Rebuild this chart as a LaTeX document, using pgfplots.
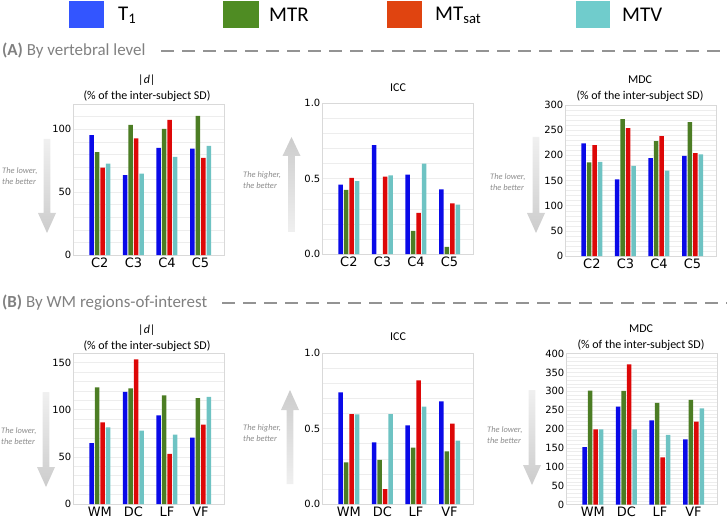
\documentclass[border=0pt]{standalone}
\usepackage{fontspec}
\setmainfont{Carlito}
\newfontfamily\dejavu{DejaVu Sans}
\usepackage{pgfplots}
\pgfplotsset{compat=1.18}
\definecolor{cT}{HTML}{0A0AE8}
\definecolor{cR}{HTML}{4C7D24}
\definecolor{cS}{HTML}{DD0808}
\definecolor{cV}{HTML}{6EC3C3}
\definecolor{lT}{HTML}{3355FF}
\definecolor{lR}{HTML}{4F8C23}
\definecolor{lS}{HTML}{E04410}
\definecolor{lV}{HTML}{70CCCC}
\definecolor{hdr}{HTML}{808080}
\pgfplotsset{
  panel/.style={
    scale only axis, width=151bp, height=151bp, anchor=south west,
    ybar=1bp, bar width=4.5bp,
    xmin=-0.8, xmax=3.7, ymin=0, enlargelimits=false,
    xtick={0,1,2,3},
    major tick length=0pt, minor tick length=0pt,
    axis line style={draw=black!15},
    ymajorgrids, yminorgrids,
    major grid style={draw=black!7},
    minor grid style={draw=black!7},
    yticklabel style={font=\dejavu\fontsize{10}{12}\selectfont, inner sep=1.5bp},
    xticklabel style={font=\dejavu\fontsize{13}{15}\selectfont, inner sep=2.5bp},
    /pgf/number format/assume math mode=true,
  },
  icc/.style={ymax=1, ytick={0,0.5,1}, minor ytick={0,0.1,...,1.0},
    yticklabel style={/pgf/number format/fixed, /pgf/number format/fixed zerofill, /pgf/number format/precision=1}},
}
\newcommand{\downarr}[4]{% cx, top, headbase, tip
  \shade[top color=black!6, bottom color=black!20] ({#1-3.4},{-#2}) -- ({#1+3.4},{-#2}) -- ({#1+3.4},{-#3}) -- ({#1+9},{-#3}) -- ({#1},{-#4}) -- ({#1-9},{-#3}) -- ({#1-3.4},{-#3}) -- cycle;}
\newcommand{\uparr}[4]{% cx, bottom, headbase, tip
  \shade[bottom color=black!6, top color=black!20] ({#1-3.4},{-#2}) -- ({#1+3.4},{-#2}) -- ({#1+3.4},{-#3}) -- ({#1+9},{-#3}) -- ({#1},{-#4}) -- ({#1-9},{-#3}) -- ({#1-3.4},{-#3}) -- cycle;}
\begin{document}
\begin{tikzpicture}[x=1bp,y=1bp]
\useasboundingbox (0,0) rectangle (727,-522);
% legend
\fill[lT] (69,-1.5) rectangle (104,-28);
\fill[lR] (223,-1.5) rectangle (259,-28);
\fill[lS] (387,-1.5) rectangle (422,-28);
\fill[lV] (576,-1.5) rectangle (610,-28);
\begin{scope}[every node/.style={anchor=west, inner sep=0pt, font=\fontsize{21}{24}\selectfont}]
\node at (118,-15) {T\textsubscript{1}};
\node at (269,-15) {MTR};
\node at (435,-15) {MT\textsubscript{sat}};
\node at (622,-15) {MTV};
\end{scope}
% section headers
\node[anchor=west, inner sep=0pt, text=hdr, font=\fontsize{17}{20}\selectfont] at (2,-51) {\textbf{(A)} By vertebral level};
\draw[hdr!85, line width=2.5bp, dash pattern=on 13bp off 8bp] (161,-51) -- (727,-51);
\node[anchor=west, inner sep=0pt, text=hdr, font=\fontsize{17}{20}\selectfont] at (2,-303) {\textbf{(B)} By WM regions-of-interest};
\draw[hdr!85, line width=2.5bp, dash pattern=on 13bp off 8bp] (222,-303) -- (727,-303);
% arrows
\downarr{47}{139}{213}{233}
\uparr{291.5}{232}{156}{137}
\downarr{536}{137}{213}{233}
\downarr{46}{392}{467}{487}
\uparr{290}{484}{410}{390}
\downarr{532}{390}{465}{485}
\begin{scope}[every node/.style={anchor=west, align=left, inner sep=0pt, text=black!45, font=\fontsize{8.5}{11}\selectfont\itshape}]
\node at (2,-176) {The lower,\\the better};
\node at (243,-180) {The higher,\\the better};
\node at (490,-182) {The lower,\\the better};
\node at (1,-436) {The lower,\\the better};
\node at (243,-433) {The higher,\\the better};
\node at (487,-435) {The lower,\\the better};
\end{scope}
% titles
\begin{scope}[every node/.style={align=center, inner sep=0pt, font=\fontsize{12}{16}\selectfont}]
\node at (147,-88) {\textit{|d|}\\(\% of the inter-subject SD)};
\node at (398,-88) {ICC};
\node at (640,-89) {MDC\\(\% of the inter-subject SD)};
\node at (147,-338.5) {\textit{|d|}\\(\% of the inter-subject SD)};
\node at (398,-337) {ICC};
\node at (641,-338) {MDC\\(\% of the inter-subject SD)};
\end{scope}
% ---- A1 |d|
\begin{axis}[panel, at={(73bp,-255bp)}, ymax=120, ytick={0,50,100}, minor ytick={0,10,...,120}, xticklabels={C2,C3,C4,C5}]
\addplot[fill=cT, draw=none] coordinates {(0,95.2) (1,63.4) (2,85.1) (3,84.6)};
\addplot[fill=cR, draw=none] coordinates {(0,81.7) (1,103.4) (2,100.3) (3,110.6)};
\addplot[fill=cS, draw=none] coordinates {(0,69.5) (1,92.6) (2,107.4) (3,77.2)};
\addplot[fill=cV, draw=none] coordinates {(0,72.7) (1,64.7) (2,78.0) (3,86.7)};
\end{axis}
% ---- A2 ICC
\begin{axis}[panel, icc, at={(322bp,-254bp)}, xticklabels={C2,C3,C4,C5}]
\addplot[fill=cT, draw=none] coordinates {(0,0.460) (1,0.721) (2,0.526) (3,0.428)};
\addplot[fill=cR, draw=none] coordinates {(0,0.425) (1,0) (2,0.153) (3,0.048)};
\addplot[fill=cS, draw=none] coordinates {(0,0.504) (1,0.513) (2,0.272) (3,0.336)};
\addplot[fill=cV, draw=none] coordinates {(0,0.482) (1,0.520) (2,0.599) (3,0.327)};
\end{axis}
% ---- A3 MDC
\begin{axis}[panel, at={(565bp,-256bp)}, ymax=300, ytick={0,50,...,300}, minor ytick={0,10,...,300}, xticklabels={C2,C3,C4,C5}]
\addplot[fill=cT, draw=none] coordinates {(0,223.7) (1,152.0) (2,194.7) (3,198.7)};
\addplot[fill=cR, draw=none] coordinates {(0,186.0) (1,271.7) (2,228.3) (3,265.8)};
\addplot[fill=cS, draw=none] coordinates {(0,220.4) (1,254.0) (2,238.0) (3,204.6)};
\addplot[fill=cV, draw=none] coordinates {(0,186.8) (1,179.0) (2,169.7) (3,202.0)};
\end{axis}
% ---- B1 |d|
\begin{axis}[panel, at={(73bp,-504bp)}, ymax=160, ytick={0,50,100,150}, minor ytick={0,10,...,160}, xticklabels={WM,DC,LF,VF}]
\addplot[fill=cT, draw=none] coordinates {(0,64.4) (1,118.7) (2,94.0) (3,70.4)};
\addplot[fill=cR, draw=none] coordinates {(0,123.6) (1,122.5) (2,115.1) (3,112.3)};
\addplot[fill=cS, draw=none] coordinates {(0,86.6) (1,153.2) (2,53.2) (3,84.2)};
\addplot[fill=cV, draw=none] coordinates {(0,81.3) (1,77.8) (2,73.6) (3,113.4)};
\end{axis}
% ---- B2 ICC
\begin{axis}[panel, icc, at={(322bp,-504bp)}, xticklabels={WM,DC,LF,VF}]
\addplot[fill=cT, draw=none] coordinates {(0,0.739) (1,0.408) (2,0.520) (3,0.680)};
\addplot[fill=cR, draw=none] coordinates {(0,0.276) (1,0.292) (2,0.373) (3,0.349)};
\addplot[fill=cS, draw=none] coordinates {(0,0.596) (1,0.099) (2,0.818) (3,0.533)};
\addplot[fill=cV, draw=none] coordinates {(0,0.594) (1,0.596) (2,0.645) (3,0.419)};
\end{axis}
% ---- B3 MDC
\begin{axis}[panel, at={(566bp,-504.5bp)}, ymax=400, ytick={0,50,...,400}, minor ytick={0,10,...,400}, xticklabels={WM,DC,LF,VF}]
\addplot[fill=cT, draw=none] coordinates {(0,151.8) (1,259.6) (2,222.8) (3,172.8)};
\addplot[fill=cR, draw=none] coordinates {(0,301.8) (1,300.9) (2,269.3) (3,277.2)};
\addplot[fill=cS, draw=none] coordinates {(0,199.0) (1,371.0) (2,124.6) (3,219.3)};
\addplot[fill=cV, draw=none] coordinates {(0,199.0) (1,199.0) (2,184.2) (3,254.4)};
\end{axis}
\end{tikzpicture}
\end{document}
